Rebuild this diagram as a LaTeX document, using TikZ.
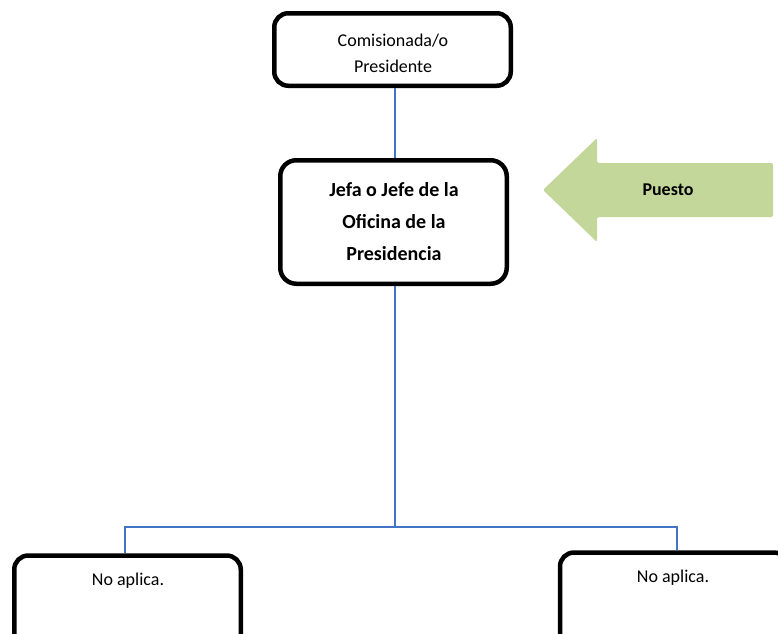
\documentclass[tikz,border=0pt]{standalone}
\usepackage{fontspec}
\setmainfont{Carlito}
\definecolor{linkblue}{RGB}{68,114,196}
\definecolor{arrowgreen}{RGB}{196,215,155}
\tikzset{
  box/.style={draw=black, line width=4.5pt, rounded corners=14pt, fill=white, inner sep=0pt},
  link/.style={draw=linkblue, line width=1.4pt},
  txt/.style={inner sep=0pt, align=center, text=black},
}
\begin{document}
\begin{tikzpicture}[x=1pt,y=-1pt]
\useasboundingbox (0,0) rectangle (778,633);
\clip (0,0) rectangle (778,633);
% boxes
\node[box, minimum width=236.5pt, minimum height=72.5pt] (top) at (392.5,49.5) {};
\node[txt, font=\fontsize{18}{26}\selectfont] (toptxt) at (393,53) {Comisionada/o\\Presidente};
\node[box, rounded corners=16pt, minimum width=226.5pt, minimum height=123.5pt] (main) at (393.5,222) {};
\node[txt, font=\fontsize{20}{32}\selectfont\bfseries] (maintxt) at (394,222) {Jefa o Jefe de la\\Oficina de la\\Presidencia};
\node[box, minimum width=226.5pt, minimum height=120pt, anchor=north] (left) at (127.5,553.25) {};
\node[txt, font=\fontsize{18}{22}\selectfont] (lefttxt) at (128,581) {No aplica.};
\node[box, minimum width=228pt, minimum height=120pt, anchor=north] (right) at (674,550.25) {};
\node[txt, font=\fontsize{18}{22}\selectfont] (righttxt) at (673,578) {No aplica.};
% connectors
\coordinate (j) at (395,527);
\coordinate (jl) at (125,527);
\coordinate (jr) at (677,527);
\draw[link] (top.south -| j) -- (main.north -| j);
\draw[link] (main.south -| j) -- (j);
\draw[link] (left.north -| jl) -- (jl) -- (jr) -- (right.north -| jr);
% arrow
\fill[arrowgreen, rounded corners=1.5pt] (543,190) -- (597,138) -- (597,163) -- (773,163) -- (773,217) -- (597,217) -- (597,242) -- cycle;
\node[txt, font=\fontsize{18}{22}\selectfont\bfseries] (puesto) at (668,190) {Puesto};
\end{tikzpicture}
\end{document}
